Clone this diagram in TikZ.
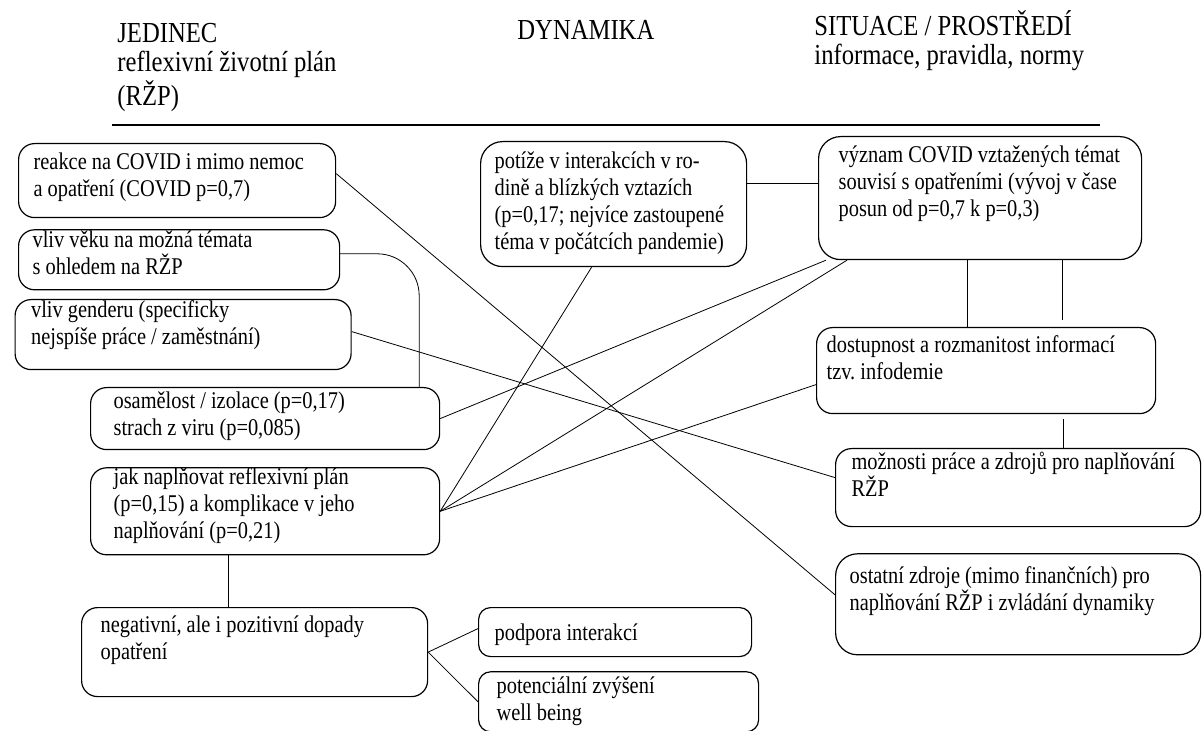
\documentclass[tikz,border=0pt]{standalone}
\usepackage{fontspec}
\setmainfont{Liberation Serif}[FakeStretch=0.85]
\usepackage{tikz}
\usetikzlibrary{positioning}
\setlength{\lineskiplimit}{-6pt}

\begin{document}
\begin{tikzpicture}[x=0.5pt, y=-0.5pt,
  box/.style={draw, line width=0.6pt, rounded corners=8pt, align=flush left, anchor=north west, inner ysep=0pt, font=\fontsize{12pt}{13.5pt}\selectfont},
  head/.style={anchor=base west, inner sep=0pt, align=flush left, text width=150pt, font=\fontsize{14.5pt}{14.5pt}\selectfont}]

  \useasboundingbox (0,0) rectangle (1203,731);

  \node[head] (h0) at (117,43) {JEDINEC\\reflexivní životní plán\\(RŽP)};
  \node[head] (h1) at (517,40) {DYNAMIKA};
  \node[head] (h2) at (814,36) {SITUACE / PROSTŘEDÍ\\informace, pravidla, normy};
  \draw[line width=0.6pt] (112,125) -- (1100,125);

  \node[box, text width=143.5pt, inner xsep=7.5pt, text height=13pt, text depth=24pt] (j0) at (18,143) {reakce na COVID i mimo nemoc\\a opatření (COVID p=0,7)};
  \node[box, text width=146.5pt, inner xsep=7pt, text height=9pt, text depth=21pt] (j1) [below=5.5pt of j0.south west, anchor=north west] {vliv věku na možná témata\\s ohledem na RŽP};
  \node[box, text width=152pt, inner xsep=8pt, text height=9pt, text depth=26pt] (j2) at (14.5,299) {vliv genderu (specificky\\nejspíše práce / zaměstnání)};
  \node[box, text width=151.5pt, inner xsep=11.5pt, text height=10.5pt, text depth=20.5pt] (j3) at (90,387) {osamělost / izolace (p=0,17)\\strach z viru (p=0,085)};
  \node[box, text width=151.5pt, inner xsep=11.5pt, text height=8.5pt, text depth=35pt] (j4) [below=8.5pt of j3.south west, anchor=north west] {jak naplňovat reflexivní plán\\(p=0,15) a komplikace v jeho\\naplňování (p=0,21)};
  \node[box, text width=154pt, inner xsep=9.5pt, text height=12.5pt, text depth=32pt] (j5) at (81,607) {negativní, ale i pozitivní dopady\\opatření};

  \node[box, rounded corners=11pt, text width=119pt, inner xsep=7pt, text height=13.5pt, text depth=49pt] (d0) at (480,141) {potíže v interakcích v ro-\\dině a blízkých vztazích\\(p=0,17; nejvíce zastoupené\\téma v počátcích pandemie)};
  \node[box, rounded corners=6pt, text width=120.5pt, inner xsep=8pt, text height=16.5pt, text depth=8pt] (d1) at (478,607) {podpora interakcí};
  \node[box, rounded corners=6pt, text width=122pt, inner xsep=9pt, text height=11pt, text depth=19pt] (d2) [below=7pt of d1.south west, anchor=north west] {potenciální zvýšení\\well being};

  \node[box, rounded corners=11pt, text width=141.5pt, inner xsep=10pt, text height=13pt, text depth=48.5pt] (s0) at (818,136) {význam COVID vztažených témat\\souvisí s opatřeními (vývoj v čase\\posun od p=0,7 k p=0,3)};
  \node[box, text width=159.5pt, inner xsep=5pt, text height=12.5pt, text depth=30.5pt] (s1) at (816,327) {dostupnost a rozmanitost informací\\tzv.\ infodemie};
  \node[box, text width=166.5pt, inner xsep=8pt, text height=10.5pt, text depth=28.5pt] (s2) at (835,448) {možnosti práce a zdrojů pro naplňování\\RŽP};
  \node[box, rounded corners=11pt, text width=168.5pt, inner xsep=7pt, text height=15pt, text depth=35.5pt] (s3) [below=13pt of s2.south west, anchor=north west] {ostatní zdroje (mimo finančních) pro\\naplňování RŽP i zvládání dynamiky};

  \path ([yshift=10.25pt]d0.east) edge ([yshift=10.25pt]d0.east -| s0.west);
  \path ([yshift=3.5pt]j0.east) edge ([yshift=4.75pt]s3.west);
  \draw[rounded corners=21pt] ([yshift=3pt]j1.east) -| ([xshift=-10.5pt]j3.north east);
  \path ([yshift=1.5pt]j2.east) edge ([yshift=5pt]s2.west);
  \path (j3.east) edge ([xshift=4pt]s0.south west);
  \path (j4.east) edge ([xshift=-11pt]d0.south);
  \path (j4.east) edge ([xshift=14.5pt]s0.south west);
  \path (j4.east) edge ([yshift=-7pt]s1.west);
  \path ([xshift=-6.25pt]s0.south) edge ([xshift=-6.25pt]s0.south |- s1.north);
  \path ([xshift=41.25pt]s0.south) edge ([xshift=41.25pt, yshift=3.5pt]s0.south |- s1.north);
  \path ([xshift=38.75pt, yshift=-2.5pt]s1.south) edge ([xshift=38.75pt]s1.south |- s2.north);
  \path ([xshift=-18.25pt]j4.south) edge ([xshift=-18.25pt]j4.south |- j5.north);
  \path (j5.east) edge ([yshift=1.75pt]d1.west);
  \path (j5.east) edge (d2.west);

\end{tikzpicture}
\end{document}
